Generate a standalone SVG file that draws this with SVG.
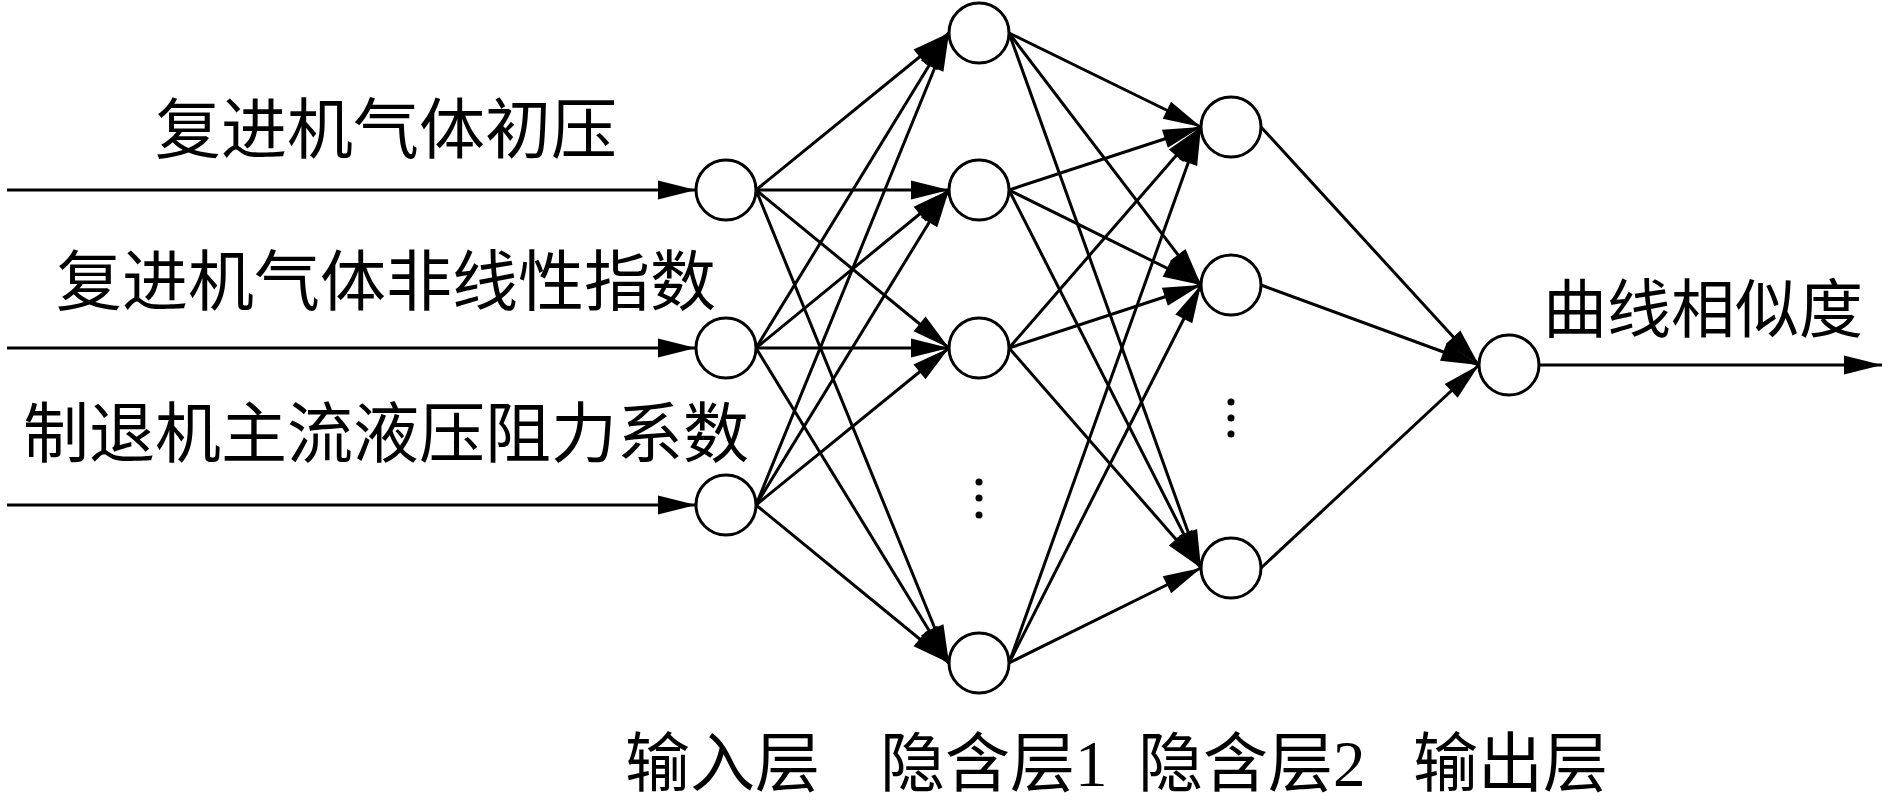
<svg xmlns="http://www.w3.org/2000/svg" width="1890" height="803" viewBox="0 0 1890 803">
<style>
.node{fill:#fff;stroke:#000;stroke-width:3}
.conn line{stroke:#000;stroke-width:3;marker-end:url(#arr)}
.lbl{font-family:'Liberation Serif','Noto Sans CJK SC',serif;font-size:66px;fill:#000}
.dot{fill:#000}
</style>
<defs>
<marker id="arr" markerUnits="userSpaceOnUse" markerWidth="40" markerHeight="22" refX="38" refY="9.5" orient="auto" overflow="visible">
<path d="M0,0 L38,9.5 L0,19 Z" fill="#000"/>
</marker>
</defs>
<rect width="1890" height="803" fill="#fff"/>
<g id="connectors" class="conn">
<line x1="7" y1="190" x2="696" y2="190"/>
<line x1="7" y1="348" x2="696" y2="348"/>
<line x1="7" y1="505" x2="696" y2="505"/>
<line x1="756" y1="190" x2="949" y2="33"/>
<line x1="756" y1="190" x2="949" y2="190"/>
<line x1="756" y1="190" x2="949" y2="348"/>
<line x1="756" y1="190" x2="949" y2="663"/>
<line x1="756" y1="348" x2="949" y2="33"/>
<line x1="756" y1="348" x2="949" y2="190"/>
<line x1="756" y1="348" x2="949" y2="348"/>
<line x1="756" y1="348" x2="949" y2="663"/>
<line x1="756" y1="505" x2="949" y2="33"/>
<line x1="756" y1="505" x2="949" y2="190"/>
<line x1="756" y1="505" x2="949" y2="348"/>
<line x1="756" y1="505" x2="949" y2="663"/>
<line x1="1009" y1="33" x2="1201" y2="127"/>
<line x1="1009" y1="33" x2="1201" y2="285"/>
<line x1="1009" y1="33" x2="1201" y2="568"/>
<line x1="1009" y1="190" x2="1201" y2="127"/>
<line x1="1009" y1="190" x2="1201" y2="285"/>
<line x1="1009" y1="190" x2="1201" y2="568"/>
<line x1="1009" y1="348" x2="1201" y2="127"/>
<line x1="1009" y1="348" x2="1201" y2="285"/>
<line x1="1009" y1="348" x2="1201" y2="568"/>
<line x1="1009" y1="663" x2="1201" y2="127"/>
<line x1="1009" y1="663" x2="1201" y2="285"/>
<line x1="1009" y1="663" x2="1201" y2="568"/>
<line x1="1261" y1="127" x2="1479" y2="365"/>
<line x1="1261" y1="285" x2="1479" y2="365"/>
<line x1="1261" y1="568" x2="1479" y2="365"/>
<line x1="1539" y1="365" x2="1882" y2="365"/>
</g>
<g id="in1"><circle class="node" cx="726" cy="190" r="30"/></g>
<g id="in2"><circle class="node" cx="726" cy="348" r="30"/></g>
<g id="in3"><circle class="node" cx="726" cy="505" r="30"/></g>
<g id="h1a"><circle class="node" cx="979" cy="33" r="30"/></g>
<g id="h1b"><circle class="node" cx="979" cy="190" r="30"/></g>
<g id="h1c"><circle class="node" cx="979" cy="348" r="30"/></g>
<g id="h1d"><circle class="node" cx="979" cy="663" r="30"/></g>
<g id="h1dots"><circle class="dot" cx="979" cy="482" r="3.5"/><circle class="dot" cx="979" cy="498" r="3.5"/><circle class="dot" cx="979" cy="515" r="3.5"/></g>
<g id="h2a"><circle class="node" cx="1231" cy="127" r="30"/></g>
<g id="h2b"><circle class="node" cx="1231" cy="285" r="30"/></g>
<g id="h2c"><circle class="node" cx="1231" cy="568" r="30"/></g>
<g id="h2dots"><circle class="dot" cx="1231" cy="402" r="3.5"/><circle class="dot" cx="1231" cy="418" r="3.5"/><circle class="dot" cx="1231" cy="434" r="3.5"/></g>
<g id="out"><circle class="node" cx="1509" cy="365" r="30"/></g>
<g id="labels">
<text class="lbl" x="386" y="153" text-anchor="middle">复进机气体初压</text>
<text class="lbl" x="386" y="305" text-anchor="middle">复进机气体非线性指数</text>
<text class="lbl" x="386" y="457" text-anchor="middle">制退机主流液压阻力系数</text>
<text class="lbl" x="1543" y="332" style="font-size:64px">曲线相似度</text>
<text class="lbl" x="625" y="786" style="font-size:65px">输入层</text>
<text class="lbl" x="880" y="786" style="font-size:65px">隐含层1</text>
<text class="lbl" x="1138" y="786" style="font-size:65px">隐含层2</text>
<text class="lbl" x="1413" y="786" style="font-size:65px">输出层</text>
</g>
</svg>
